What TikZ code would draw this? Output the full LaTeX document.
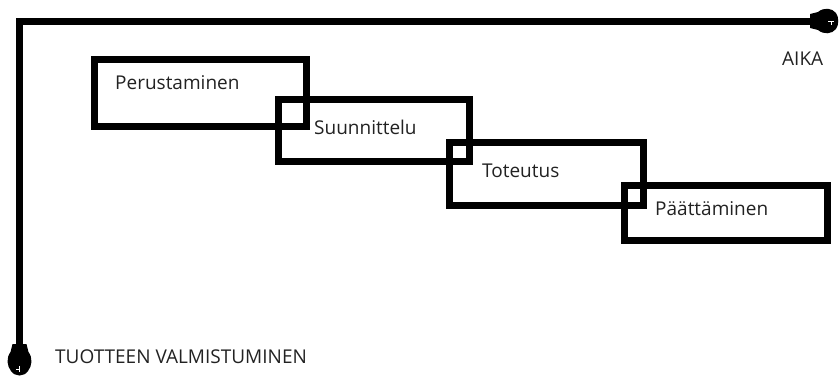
\documentclass[tikz,border=0pt]{standalone}
\usepackage{fontspec}
\setmainfont{Open Sans}
\definecolor{txt}{HTML}{222222}
\begin{document}
\begin{tikzpicture}[x=1pt,y=-1pt,
  axis/.style={draw=black, line width=7pt},
  phasebox/.style={draw=black, line width=7pt, rectangle, inner sep=0pt, anchor=north west},
  lbl/.style={text=txt, font=\fontsize{19}{22}\selectfont, anchor=west, inner sep=0pt},
  blob/.style={fill=black, draw=none}]
\useasboundingbox (0,0) rectangle (840,378);
% axes
\coordinate (corner) at (19.5,21);
\coordinate (xend) at (812,21);
\coordinate (yend) at (19.5,346);
\draw[axis] (yend) -- (corner) -- (xend);
% right blob
\fill[blob] (810,14) -- (818,12) .. controls (824,7) and (832,8) .. (836,13)
  .. controls (839,17) and (839,25) .. (836,29) .. controls (832,34) and (824,35) .. (818,30)
  -- (810,28) -- cycle;
\draw[white, line width=1pt] (828,21) -- (834,21) (831,21) -- (831,25);
% bottom blob
\fill[blob] (12.5,344) -- (10.5,352) .. controls (6,358) and (7,366) .. (11,371)
  .. controls (15,377) and (24,377) .. (28,371) .. controls (32,366) and (33,358) .. (28.5,352)
  -- (26.5,344) -- cycle;
\draw[white, line width=1pt] (19.5,366) -- (19.5,372) (19.5,369) -- (16,369);
% phases
\node[phasebox, minimum width=212pt, minimum height=67pt] (b1) at (91,56) {};
\node[phasebox, minimum width=191pt, minimum height=62.5pt] (b2) at (275,95.5) {};
\node[phasebox, minimum width=194pt, minimum height=63pt] (b3) at (445.5,138.5) {};
\node[phasebox, minimum width=203pt, minimum height=55pt] (b4) at (620.5,181.5) {};
\node[lbl] (t1) at (115,83) {Perustaminen};
\node[lbl] (t2) at (314,127) {Suunnittelu};
\node[lbl] (t3) at (482,171) {Toteutus};
\node[lbl] (t4) at (655,209) {Päättäminen};
\node[lbl] (aika) at (782,59) {AIKA};
\node[lbl] (tv) at (55,357) {TUOTTEEN VALMISTUMINEN};
\end{tikzpicture}
\end{document}
